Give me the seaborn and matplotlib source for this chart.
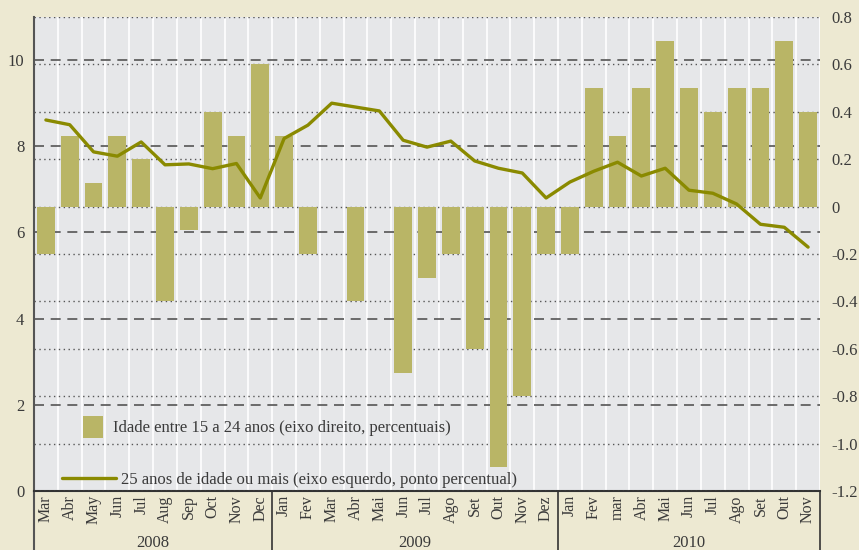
import numpy as np
import pandas as pd
import matplotlib
matplotlib.use("Agg")
import matplotlib.pyplot as plt
from matplotlib.patches import Patch
from matplotlib.lines import Line2D
from matplotlib.ticker import FuncFormatter, MultipleLocator
import seaborn as sns

# month labels per year
months_2008 = ['Mar', 'Abr', 'May', 'Jun', 'Jul', 'Aug', 'Sep', 'Oct', 'Nov', 'Dec']
months_2009 = ['Jan', 'Fev', 'Mar', 'Abr', 'Mai', 'Jun', 'Jul', 'Ago', 'Set', 'Out', 'Nov', 'Dez']
months_2010 = ['Jan', 'Fev', 'mar', 'Abr', 'Mai', 'Jun', 'Jul', 'Ago', 'Set', 'Out', 'Nov']
years = ['2008', '2009', '2010']

# 15-24 years (right axis, percent)
youth = [-0.2, 0.3, 0.1, 0.3, 0.2, -0.4, -0.1, 0.4, 0.3, 0.6,
         0.3, -0.2, 0.0, -0.4, 0.0, -0.7, -0.3, -0.2, -0.6, -1.1, -0.8, -0.2,
         -0.2, 0.5, 0.3, 0.5, 0.7, 0.5, 0.4, 0.5, 0.5, 0.7, 0.4]
# 25+ years (left axis)
adults = [8.61, 8.50, 7.87, 7.77, 8.10, 7.57, 7.59, 7.48, 7.60, 6.80,
          8.18, 8.49, 9.00, 8.91, 8.82, 8.14, 7.98, 8.12, 7.66, 7.49, 7.38, 6.80,
          7.17, 7.42, 7.63, 7.31, 7.49, 6.98, 6.91, 6.66, 6.19, 6.12, 5.66]

month_labels = months_2008 + months_2009 + months_2010
year_sizes = [len(months_2008), len(months_2009), len(months_2010)]

df = pd.DataFrame({'idx': np.arange(len(month_labels)), 'month': month_labels,
                   'youth': youth, 'adults': adults})

fig_bg = '#EDE9D2'
plot_bg = '#E6E7E9'
bar_col = '#B9B566'
line_col = '#8A8A00'
text_col = '#3A3A3A'
grid_col = '#555555'

sns.set_style("white")
plt.rcParams['font.family'] = ['Liberation Serif', 'DejaVu Serif']

fig = plt.figure(figsize=(8.59, 5.5), dpi=100, facecolor=fig_bg)
rect = [34 / 859, 59 / 550, 786 / 859, 474 / 550]
ax = fig.add_axes(rect)
ax.set_facecolor(plot_bg)
axr = ax.twinx()
axl = ax.twinx()

# bars on right axis
sns.barplot(data=df, x='idx', y='youth', ax=axr, color=bar_col, saturation=1,
            width=0.75, edgecolor='none', zorder=3)
# line on left axis
sns.lineplot(data=df, x='idx', y='adults', ax=axl, color=line_col, lw=2.4,
             zorder=4, legend=False)

n = len(df)
ax.set_xlim(-0.5, n - 0.5)
ax.set_ylim(0, 11)
axl.set_ylim(0, 11)
axr.set_ylim(-1.2, 0.8)

# left axis (background layer): dashed grid + white vertical lines
ax.set_yticks([0, 2, 4, 6, 8, 10])
ax.yaxis.grid(True, which='major', color=grid_col, linestyle=(0, (6, 4)), lw=1.2)
ax.set_xticks(df['idx'])
ax.set_xticklabels(df['month'], rotation=90, color=text_col, fontsize=11.5)
ax.xaxis.set_minor_locator(MultipleLocator(1, offset=0.5))
ax.xaxis.grid(True, which='minor', color='white', lw=1.2)
ax.tick_params(axis='x', which='both', length=0, pad=3)
ax.tick_params(axis='y', length=0, pad=7, labelsize=12, labelcolor=text_col)
ax.set_axisbelow(True)
ax.set_xlabel('')
ax.set_ylabel('')

# right axis: dotted grid
axr.set_yticks(np.round(np.arange(-1.2, 0.81, 0.2), 1))
axr.yaxis.set_major_formatter(FuncFormatter(lambda v, p: '0' if abs(v) < 1e-9 else f'{v:.1f}'))
axr.yaxis.grid(True, color=grid_col, linestyle=(0, (1, 2.5)), lw=1.0)
axr.set_axisbelow(True)
axr.tick_params(axis='y', length=0, pad=8, labelsize=12, labelcolor=text_col)
axr.set_ylabel('')

axl.yaxis.set_visible(False)
axl.set_ylabel('')

for a in (ax, axr, axl):
    for s in ('top', 'right'):
        a.spines[s].set_visible(False)
    a.spines['left'].set_visible(False)
    a.spines['bottom'].set_visible(False)
ax.spines['left'].set_visible(True)
ax.spines['bottom'].set_visible(True)
ax.spines['left'].set_color(grid_col)
ax.spines['bottom'].set_color('#333333')
ax.spines['left'].set_linewidth(1.5)
ax.spines['bottom'].set_linewidth(1.5)

# year separators and labels below the axis
trans = ax.get_xaxis_transform()
bounds = np.cumsum([0] + year_sizes) - 0.5
for b in bounds[1:]:
    ax.plot([b, b], [0, -0.13], transform=trans, color='#333333', lw=1.2,
            clip_on=False)
ax.plot([bounds[0], bounds[0]], [0, -0.13], transform=trans, color=grid_col,
        lw=1.5, clip_on=False)
for i, yr in enumerate(years):
    ax.text((bounds[i] + bounds[i + 1]) / 2, -0.11, yr, transform=trans,
            ha='center', va='center', fontsize=12, color=text_col)

# legends
leg1 = axl.legend(handles=[Patch(facecolor=bar_col, edgecolor='none')],
                  labels=['Idade entre 15 a 24 anos (eixo direito, percentuais)'],
                  loc='center left', bbox_to_anchor=(0.062, 0.135), frameon=False,
                  handlelength=1.2, handleheight=1.6, handletextpad=0.6,
                  borderaxespad=0, borderpad=0, fontsize=12, labelcolor=text_col)
axl.add_artist(leg1)
axl.legend(handles=[Line2D([], [], color=line_col, lw=2.4)],
           labels=['25 anos de idade ou mais (eixo esquerdo, ponto percentual)'],
           loc='center left', bbox_to_anchor=(0.036, 0.024), frameon=False,
           handlelength=3.2, handletextpad=0.3, borderaxespad=0, borderpad=0,
           fontsize=12, labelcolor=text_col)

fig.savefig('out.png', dpi=100, facecolor=fig_bg)
